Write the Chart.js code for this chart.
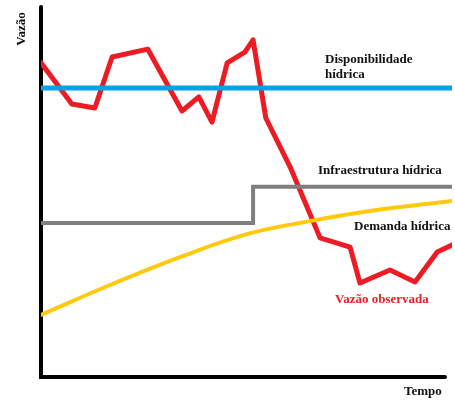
<!DOCTYPE html>
<html>
<head>
<meta charset="utf-8">
<script src="https://cdn.jsdelivr.net/npm/chart.js@4/dist/chart.umd.min.js"></script>
<style>
  html, body { margin: 0; padding: 0; background: #fff; }
  #wrap { width: 455px; height: 400px; }
</style>
</head>
<body>
<div id="wrap"><canvas id="flowChart" width="455" height="400"></canvas></div>
<script>
// series (time 0-100, flow 0-100)
const observedTime = [0, 7.5, 13.1, 17.3, 26.0, 34.3, 38.4, 41.6, 45.3, 49.6, 51.6, 54.7, 60.6, 67.9, 75.2, 77.6, 84.9, 91.0, 96.4, 100];
const observedFlow = [84.9, 73.8, 72.7, 86.5, 88.6, 71.9, 75.7, 68.9, 84.9, 87.8, 91.1, 70.0, 56.8, 37.6, 35.1, 25.4, 28.9, 25.7, 33.8, 35.7];

const availableTime = [0, 100];
const availableFlow = [78.1, 78.1];

const infraTime = [0, 51.6, 51.6, 100];
const infraFlow = [41.6, 41.6, 51.4, 51.4];

const demandTime = [0, 17.5, 33.8, 50.1, 64.7, 80.8, 100];
const demandFlow = [16.8, 25.2, 32.4, 38.6, 42.0, 45.0, 47.6];

const toPoints = (xs, ys) => xs.map((x, i) => ({ x: x, y: ys[i] }));

const serif = '"Liberation Serif", "DejaVu Serif", serif';

// black axes + hand placed labels
const sketchPlugin = {
  id: 'sketch',
  beforeDatasetsDraw(chart) {
    const ctx = chart.ctx;
    const xs = chart.scales.x, ys = chart.scales.y;
    const x0 = xs.getPixelForValue(0), y0 = ys.getPixelForValue(0);
    ctx.save();
    ctx.strokeStyle = '#000';
    ctx.lineWidth = 4;
    ctx.lineCap = 'round';
    ctx.beginPath();
    ctx.moveTo(x0, ys.getPixelForValue(100));
    ctx.lineTo(x0, y0);
    ctx.lineTo(xs.getPixelForValue(98.3), y0);
    ctx.stroke();
    ctx.restore();
  },
  afterDraw(chart) {
    const ctx = chart.ctx;
    ctx.save();
    ctx.font = 'bold 13px ' + serif;
    ctx.textBaseline = 'middle';
    ctx.fillStyle = '#111';
    ctx.fillText('Disponibilidade', 325, 60);
    ctx.fillText('hídrica', 325, 75);
    ctx.fillText('Infraestrutura hídrica', 318, 171);
    ctx.fillText('Demanda hídrica', 354, 227);
    ctx.fillText('Tempo', 404, 392);
    ctx.fillStyle = '#ed1c24';
    ctx.fillText('Vazão observada', 335, 300);
    ctx.fillStyle = '#111';
    ctx.translate(22, 29);
    ctx.rotate(-Math.PI / 2);
    ctx.textAlign = 'center';
    ctx.fillText('Vazão', 0, 0);
    ctx.restore();
  }
};

new Chart(document.getElementById('flowChart'), {
  type: 'line',
  data: {
    datasets: [{
      label: 'Disponibilidade hídrica',
      data: toPoints(availableTime, availableFlow),
      borderColor: '#00a2e8',
      borderWidth: 5,
      borderCapStyle: 'round'
    }, {
      label: 'Infraestrutura hídrica',
      data: toPoints(infraTime, infraFlow),
      borderColor: '#7f7f7f',
      borderWidth: 4,
      borderCapStyle: 'round'
    }, {
      label: 'Demanda hídrica',
      data: toPoints(demandTime, demandFlow),
      borderColor: '#ffc90e',
      borderWidth: 4,
      borderCapStyle: 'round',
      tension: 0.4
    }, {
      label: 'Vazão observada',
      data: toPoints(observedTime, observedFlow),
      borderColor: '#ed1c24',
      borderWidth: 5,
      borderCapStyle: 'round',
      borderJoinStyle: 'round'
    }]
  },
  options: {
    responsive: false,
    animation: false,
    layout: { padding: { left: 41, right: 3, top: 7, bottom: 23 } },
    elements: { point: { radius: 0, hoverRadius: 0 } },
    scales: {
      x: { type: 'linear', min: 0, max: 100, display: false },
      y: { min: 0, max: 100, display: false }
    },
    plugins: {
      legend: { display: false },
      tooltip: { enabled: false }
    }
  },
  plugins: [sketchPlugin]
});
</script>
</body>
</html>
